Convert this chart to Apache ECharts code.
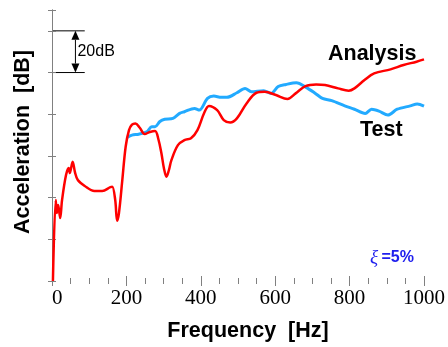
<!DOCTYPE html>
<html><head><meta charset="utf-8">
<script src="https://cdn.jsdelivr.net/npm/echarts@6.0.0/dist/echarts.min.js"></script>
<style>html,body{margin:0;padding:0;background:#fff}#c{width:448px;height:347px}</style>
</head><body><div id="c"></div>
<script>
const xTickLabels = [0, 200, 400, 600, 800, 1000];
const analysisFreq = [2.5, 10, 13, 16.6, 22, 27, 37.7, 45, 48, 55.4, 62, 69.4, 88, 114, 135, 157, 162, 170, 175, 180, 189, 198, 207, 215, 224, 236, 249, 263, 277, 286, 294, 301, 307.7, 314, 321, 338.5, 356, 373.6, 391, 409, 422, 444, 461.7, 479, 497, 523, 549.6, 571.5, 602, 633, 655, 681.5, 710, 734, 769, 797.6, 813, 840, 866, 910, 945, 980, 1000];
const analysisDb = [0, 38.8, 32.6, 36.5, 30.2, 38.8, 50.8, 54.2, 51.8, 57.2, 52, 48.4, 45.6, 43.2, 43.2, 45, 45.2, 38.8, 28.9, 32.6, 48.4, 64.4, 72.4, 75, 75.6, 73.5, 70.5, 71.5, 72, 68, 61.4, 54, 50, 53, 58, 65.2, 67.6, 68.5, 72.4, 80.6, 84, 82, 77.2, 76, 78, 85.2, 90.3, 90.8, 89.2, 87.3, 90, 93.5, 94.3, 94, 92.4, 91.3, 92.4, 96.4, 99.6, 101.5, 103.6, 105.2, 106.3];
const testFreq = [202, 215, 233, 255, 268, 277, 290, 303, 325, 343, 356, 383, 396, 418, 435, 455, 470, 497, 519, 536, 569, 589, 608, 629, 657, 683, 708, 727, 752, 787, 813, 842, 859, 879, 903, 928, 963, 982, 1000];
const testDb = [68.9, 70, 70.4, 71.6, 74, 74, 76.5, 77.6, 78, 80.4, 81.2, 82.8, 82, 87.6, 88.7, 88.1, 88.1, 90.3, 92.4, 90.8, 91.3, 90, 93.3, 94.3, 95.1, 92.9, 90, 87.6, 86.5, 84, 82.4, 80.4, 82.4, 81.5, 79.6, 82.4, 84, 84.9, 83.9];

const analysis = analysisFreq.map((f, i) => [f, analysisDb[i]]);
const test = testFreq.map((f, i) => [f, testDb[i]]);

const axisGray = '#808080';
const chart = echarts.init(document.getElementById('c'), null, {renderer: 'canvas'});
const xCommon = {
  type: 'value', min: 0, max: 1000, interval: 200,
  axisLine: {show: false},
  axisTick: {show: true, inside: true, length: 5, lineStyle: {color: axisGray}},
  minorTick: {show: true, splitNumber: 4, length: 3, lineStyle: {color: axisGray}},
  splitLine: {show: false}, minorSplitLine: {show: false}
};
const yCommon = {
  type: 'value', min: 0, max: 130, interval: 20,
  axisLine: {show: true, lineStyle: {color: axisGray, width: 1}},
  axisTick: {show: true, inside: true, length: 4, lineStyle: {color: axisGray}},
  axisLabel: {show: false},
  splitLine: {show: false}
};
chart.setOption({
  animation: false,
  backgroundColor: '#fff',
  grid: {left: 52, right: 17, top: 10, bottom: 66, containLabel: false},
  xAxis: [
    Object.assign({}, xCommon, {
      position: 'bottom',
      axisLabel: {show: true, margin: 7, color: '#000', fontFamily: 'Liberation Serif', fontSize: 21,
        alignMinLabel: 'left',
        formatter: v => xTickLabels.includes(v) ? String(v) : ''}
    }),
    Object.assign({}, xCommon, {position: 'top', axisLabel: {show: false}})
  ],
  yAxis: [
    Object.assign({}, yCommon, {position: 'left'}),
    Object.assign({}, yCommon, {position: 'right'})
  ],
  series: [
    {type: 'line', name: 'Test', data: test, showSymbol: false, smooth: 0.3,
      lineStyle: {color: '#22aaff', width: 3}, xAxisIndex: 0, yAxisIndex: 0, clip: true},
    {type: 'line', name: 'Analysis', data: analysis, showSymbol: false, smooth: 0.35,
      lineStyle: {color: '#ff0000', width: 2.5}, xAxisIndex: 0, yAxisIndex: 0, clip: true}
  ]
});

const px = (x, y) => chart.convertToPixel({xAxisIndex: 0, yAxisIndex: 0}, [x, y]);
const a = px(0, 120), b = px(0, 100), e = px(88, 120), ax = px(63, 120);
const arrowX = ax[0];
const headL = 9, headW = 4;
chart.setOption({
  graphic: [
    {type: 'line', shape: {x1: a[0], y1: a[1], x2: e[0], y2: a[1]}, style: {stroke: '#000', lineWidth: 1}},
    {type: 'line', shape: {x1: b[0], y1: b[1], x2: e[0], y2: b[1]}, style: {stroke: '#000', lineWidth: 1}},
    {type: 'line', shape: {x1: arrowX, y1: a[1] + headL, x2: arrowX, y2: b[1] - headL}, style: {stroke: '#000', lineWidth: 1}},
    {type: 'polygon', shape: {points: [[arrowX, a[1]], [arrowX - headW, a[1] + headL], [arrowX + headW, a[1] + headL]]}, style: {fill: '#000'}},
    {type: 'polygon', shape: {points: [[arrowX, b[1]], [arrowX - headW, b[1] - headL], [arrowX + headW, b[1] - headL]]}, style: {fill: '#000'}},
    {type: 'text', x: arrowX + 2, y: (a[1] + b[1]) / 2, style: {text: '20dB', fontFamily: 'Liberation Sans', fontSize: 16, fill: '#000', textVerticalAlign: 'middle', textAlign: 'left'}},
    {type: 'text', x: 328, y: 54, style: {text: 'Analysis', fontFamily: 'Liberation Sans', fontWeight: 'bold', fontSize: 21.5, fill: '#000', textVerticalAlign: 'middle', textAlign: 'left'}},
    {type: 'text', x: 360, y: 130, style: {text: 'Test', fontFamily: 'Liberation Sans', fontWeight: 'bold', fontSize: 21.5, fill: '#000', textVerticalAlign: 'middle', textAlign: 'left'}},
    {type: 'text', x: 370, y: 258, style: {
      text: '{g|ξ} {v|=5%}', textVerticalAlign: 'middle', textAlign: 'left',
      rich: {
        g: {fontFamily: 'Liberation Serif', fontStyle: 'italic', fontSize: 19, fill: '#2020ee', color: '#2020ee'},
        v: {fontFamily: 'Liberation Sans', fontWeight: 'bold', fontSize: 16, fill: '#2020ee', color: '#2020ee'}
      }}},
    {type: 'text', x: 248, y: 331, style: {text: 'Frequency  [Hz]', fontFamily: 'Liberation Sans', fontWeight: 'bold', fontSize: 21.5, fill: '#000', textVerticalAlign: 'middle', textAlign: 'center'}},
    {type: 'text', x: 23, y: 142, rotation: Math.PI / 2, style: {text: 'Acceleration  [dB]', fontFamily: 'Liberation Sans', fontWeight: 'bold', fontSize: 21.5, fill: '#000', textVerticalAlign: 'middle', textAlign: 'center'}}
  ]
});
</script></body></html>
